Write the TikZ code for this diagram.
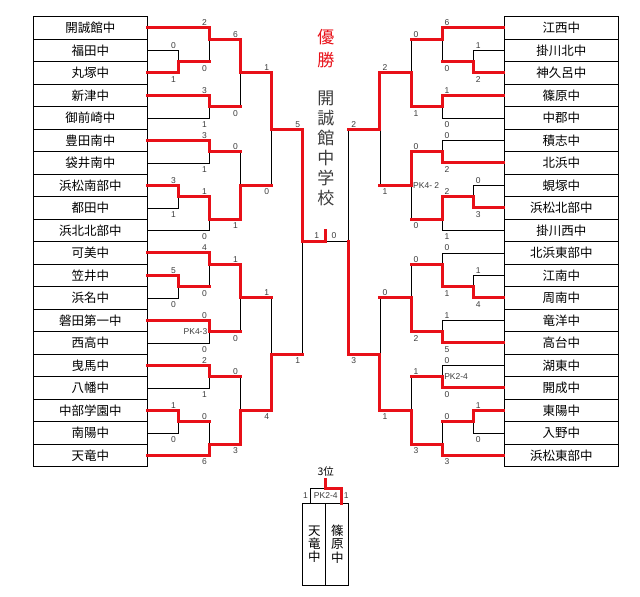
\documentclass[tikz,border=0pt]{standalone}
\usepackage{fontspec}
\setmainfont{Liberation Sans}
\newfontfamily\jp{Noto Sans CJK JP}
\definecolor{winred}{RGB}{232,16,24}
\definecolor{inkgray}{RGB}{60,60,60}
\begin{document}
\begin{tikzpicture}[x=1pt, y=-1pt,
  team/.style={draw, line width=1.1pt, minimum width=114pt, minimum height=22.5pt, inner sep=0pt, font={\jp\fontsize{12.5}{13}\selectfont}},
  tall/.style={draw, line width=1.1pt, minimum width=23pt, minimum height=81.7pt, inner sep=0pt, align=center, font={\jp\fontsize{12.5}{13.3}\selectfont}},
  score/.style={inner sep=0pt, text=inkgray, font={\fontsize{8.5}{9}\selectfont}},
  lose/.style={line width=0.8pt},
  win/.style={winred, line width=3pt, line cap=rect}]
\useasboundingbox (0,0) rectangle (640,597);
% teams
\foreach \t [count=\i] in {開誠館中, 福田中, 丸塚中, 新津中, 御前崎中, 豊田南中, 袋井南中, 浜松南部中, 都田中, 浜北北部中,
  可美中, 笠井中, 浜名中, 磐田第一中, 西高中, 曳馬中, 八幡中, 中部学園中, 南陽中, 天竜中}
  \node[team] (L\i) at (90.3, 5.45+22.5*\i) {\t};
\foreach \t [count=\i] in {江西中, 掛川北中, 神久呂中, 篠原中, 中郡中, 積志中, 北浜中, 蜆塚中, 浜松北部中, 掛川西中,
  北浜東部中, 江南中, 周南中, 竜洋中, 高台中, 湖東中, 開成中, 東陽中, 入野中, 浜松東部中}
  \node[team] (R\i) at (561.3, 5.45+22.5*\i) {\t};
% matches
\coordinate (a1) at (178.4, 61.7);
\coordinate (a2) at (209.5, 39.2);
\coordinate (a3) at (209.5, 106.7);
\coordinate (a4) at (240.6, 72.95);
\coordinate (a5) at (209.5, 151.7);
\coordinate (a6) at (178.4, 196.7);
\coordinate (a7) at (209.5, 219.2);
\coordinate (a8) at (240.6, 185.45);
\coordinate (a9) at (271.7, 129.2);
\coordinate (b1) at (178.4, 286.7);
\coordinate (b2) at (209.5, 264.2);
\coordinate (b3) at (209.5, 331.7);
\coordinate (b4) at (240.6, 297.95);
\coordinate (b5) at (209.5, 376.7);
\coordinate (b6) at (178.4, 421.7);
\coordinate (b7) at (209.5, 444.2);
\coordinate (b8) at (240.6, 410.45);
\coordinate (b9) at (271.7, 354.2);
\coordinate (sl) at (302.8, 241.7);
\coordinate (c1) at (473.2, 61.7);
\coordinate (c2) at (442.1, 39.2);
\coordinate (c3) at (442.1, 106.7);
\coordinate (c4) at (411.0, 72.95);
\coordinate (c5) at (442.1, 151.7);
\coordinate (c6) at (473.2, 196.7);
\coordinate (c7) at (442.1, 219.2);
\coordinate (c8) at (411.0, 185.45);
\coordinate (c9) at (379.9, 129.2);
\coordinate (d1) at (473.2, 286.7);
\coordinate (d2) at (442.1, 264.2);
\coordinate (d3) at (442.1, 331.7);
\coordinate (d4) at (411.0, 297.95);
\coordinate (d5) at (442.1, 376.7);
\coordinate (d6) at (473.2, 421.7);
\coordinate (d7) at (442.1, 444.2);
\coordinate (d8) at (411.0, 410.45);
\coordinate (d9) at (379.9, 354.2);
\coordinate (sr) at (348.8, 241.7);
\coordinate (fin) at (325.8, 241.7);
\coordinate (finT) at (325.8, 230);
% beaten
\foreach \p/\m in {L2/a1, a1/a2, L5/a3, a3/a4, L7/a5, L9/a6, L10/a7, a5/a8, a8/a9,
  L13/b1, b1/b2, L15/b3, b3/b4, L17/b5, L19/b6, b6/b7, b5/b8, b4/b9, b9/sl,
  R2/c1, c1/c2, R5/c3, c2/c4, R6/c5, R8/c6, R10/c7, c7/c8, c8/c9, c9/sr,
  R12/d1, R11/d2, R14/d3, d2/d4, R16/d5, R19/d6, d6/d7, d5/d8, d4/d9}
  \draw[lose] (\p) -| (\m);
\draw[lose] (sr) -- (fin);
% winners
\foreach \p/\m in {L3/a1, L1/a2, L4/a3, a2/a4, L6/a5, L8/a6, a6/a7, a7/a8, a4/a9, a9/sl,
  L12/b1, L11/b2, L14/b3, b2/b4, L16/b5, L18/b6, L20/b7, b7/b8, b8/b9,
  R3/c1, R1/c2, R4/c3, c3/c4, R7/c5, R9/c6, c6/c7, c5/c8, c4/c9,
  R13/d1, d1/d2, R15/d3, d3/d4, R17/d5, R18/d6, R20/d7, d7/d8, d8/d9, d9/sr}
  \draw[win] (\p) -| (\m);
\foreach \p/\m in {a1/a2, a3/a4, a5/a8, a8/a9, b1/b2, b3/b4, b6/b7, b5/b8, b4/b9, b9/sl,
  c1/c2, c2/c4, c7/c8, c8/c9, c9/sr, d2/d4, d6/d7, d5/d8, d4/d9}
  \draw[win] (\p) -- (\m |- \p);
\draw[win] (sl) -| (finT);
% scores
\foreach \x/\y/\t [count=\i] in {173.4/45.45/0, 173.4/79.45/1, 204.5/22.95/2, 204.5/68.2/0,
  204.5/90.45/3, 204.5/124.45/1, 235.6/34.2/6, 235.6/113.2/0, 204.5/135.45/3, 204.5/169.45/1,
  173.4/180.45/3, 173.4/214.45/1, 204.5/191.7/1, 204.5/236.95/0, 235.6/146.7/0, 235.6/225.7/1,
  266.7/67.95/1, 266.7/191.95/0, 297.8/124.2/5, 297.8/360.7/1,
  173.4/270.45/5, 173.4/304.45/0, 204.5/247.95/4, 204.5/293.2/0, 204.5/315.45/0, 204.5/349.45/0,
  235.6/259.2/1, 235.6/338.2/0, 204.5/360.45/2, 204.5/394.45/1, 173.4/405.45/1, 173.4/439.45/0,
  204.5/416.7/0, 204.5/461.95/6, 235.6/371.7/0, 235.6/450.7/3, 266.7/292.95/1, 266.7/416.95/4,
  478.2/45.45/1, 478.2/79.45/2, 447.1/22.95/6, 447.1/68.2/0, 447.1/90.45/1, 447.1/124.45/0,
  416.0/34.2/0, 416.0/113.2/1, 447.1/135.45/0, 447.1/169.45/2, 478.2/180.45/0, 478.2/214.45/3,
  447.1/191.7/2, 447.1/236.95/1, 416.0/146.7/0, 416.0/225.7/0, 384.9/67.95/2, 384.9/191.95/1,
  353.8/124.2/2, 353.8/360.7/3,
  478.2/270.45/1, 478.2/304.45/4, 447.1/247.95/0, 447.1/293.2/1, 447.1/315.45/1, 447.1/349.45/5,
  416.0/259.2/0, 416.0/338.2/2, 447.1/360.45/0, 447.1/394.45/0, 478.2/405.45/1, 478.2/439.45/0,
  447.1/416.7/0, 447.1/461.95/3, 416.0/371.7/1, 416.0/450.7/3, 384.9/292.95/0, 384.9/416.95/1,
  316.7/235.7/1, 334.0/235.7/0, 305.5/495.5/1, 346.2/495.5/1}
  \node[score] (s\i) at (\x,\y) {\t};
\node[score, anchor=east] (pk1) at (207.5, 331.7) {PK4-3};
\node[score, anchor=west] (pk2) at (413.0, 185.45) {PK4- 2};
\node[score, anchor=west] (pk3) at (444.1, 376.7) {PK2-4};
% champion
\node[text=winred, align=center, font={\jp\fontsize{17}{23}\selectfont}] (title) at (325.8, 48.3) {優\\勝};
\node[text=inkgray, align=center, font={\jp\fontsize{17}{20}\selectfont}] (champion) at (325.8, 148.3) {開\\誠\\館\\中\\学\\校};
% third place
\node[font={\jp\fontsize{10.5}{11}\selectfont}] (third) at (325.8, 471.7) {3位};
\node[tall] (t1) at (314.3, 544.2) {天\\竜\\中};
\node[tall] (t2) at (337.3, 544.2) {篠\\原\\中};
\coordinate (tl) at (310.1, 503.35);
\coordinate (tr) at (341.5, 503.35);
\coordinate (tp) at (325.8, 488.3);
\coordinate (tpT) at (325.8, 479.5);
\draw[lose] (tl) |- (tp);
\draw[win] (tr) |- (tp) -- (tpT);
\node[score] (pk4) at (325.8, 495.8) {PK2-4};
\end{tikzpicture}
\end{document}
